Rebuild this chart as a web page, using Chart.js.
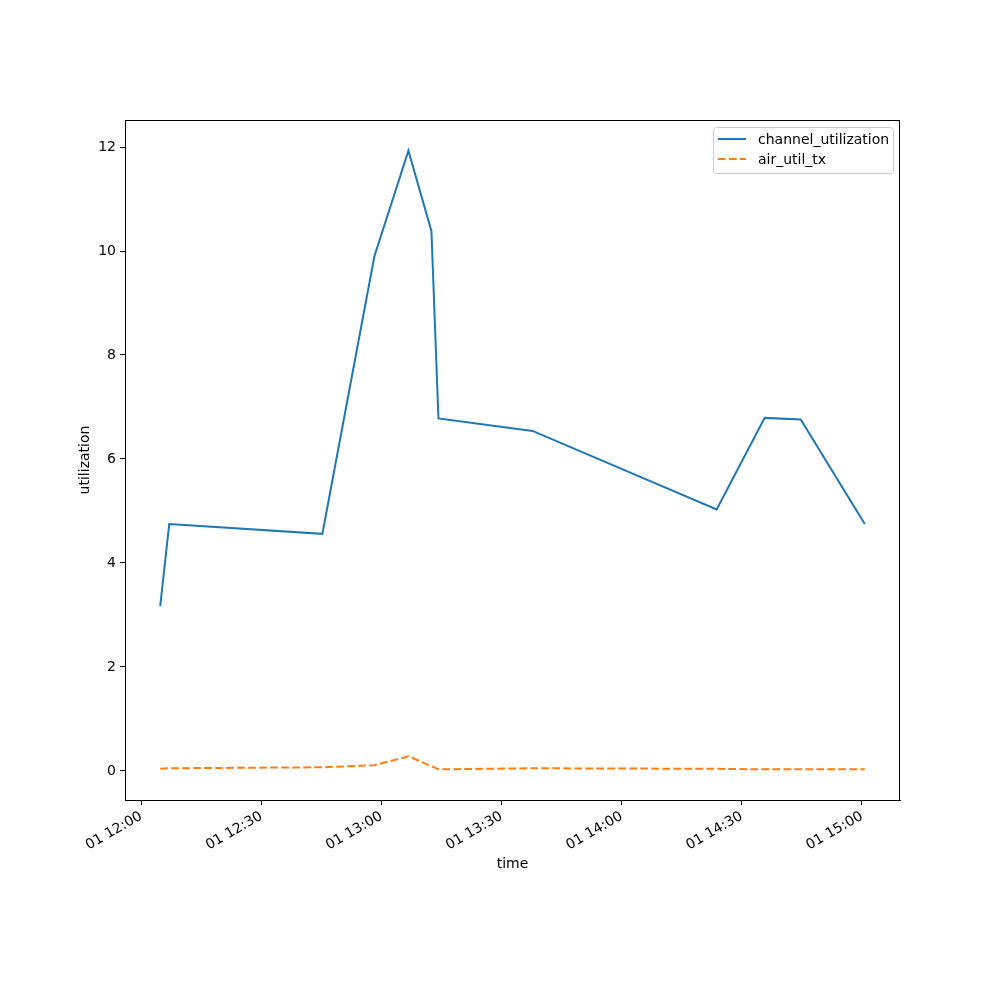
<!DOCTYPE html>
<html>
<head>
<meta charset="utf-8">
<script src="https://cdn.jsdelivr.net/npm/chart.js@4"></script>
<style>
    html, body { margin: 0; padding: 0; background: #fff; }
    #wrap { width: 1000px; height: 1000px; }
</style>
</head>
<body>
<div id="wrap"><canvas id="util-chart" width="1000" height="1000"></canvas></div>
<script>
// Minutos depois de 01 12:00
const timeMinutes = [4.75, 7, 45.25, 58.25, 66.75, 72.5, 74.25, 97.75, 143.75, 155.75, 164.75, 180.75];
const channelUtil = [3.17, 4.75, 4.56, 9.9, 11.93, 10.38, 6.78, 6.54, 5.03, 6.79, 6.76, 4.75];
const airUtilTx = [0.04, 0.05, 0.07, 0.11, 0.28, 0.09, 0.03, 0.05, 0.04, 0.03, 0.03, 0.03];

const xTickValues = [0, 30, 60, 90, 120, 150, 180];
const xTickLabels = ['01 12:00', '01 12:30', '01 13:00', '01 13:30', '01 14:00', '01 14:30', '01 15:00'];
const seriesNames = ['channel_utilization', 'air_util_tx'];

const FONT = 'DejaVu Sans';

// Moldura e legenda no estilo matplotlib
const frameAndLegend = {
    id: 'frameAndLegend',
    afterDraw(chart) {
        const { ctx, chartArea } = chart;
        ctx.save();
        ctx.strokeStyle = '#000';
        ctx.lineWidth = 1;
        ctx.strokeRect(chartArea.left + 0.5, chartArea.top + 0.5,
            chartArea.right - chartArea.left - 1, chartArea.bottom - chartArea.top);

        // caixa da legenda
        const bx = chartArea.right - 187, by = chartArea.top + 7, bw = 180, bh = 46;
        ctx.fillStyle = 'rgba(255,255,255,0.8)';
        ctx.strokeStyle = '#cccccc';
        ctx.beginPath();
        ctx.roundRect(bx + 0.5, by + 0.5, bw, bh, 3);
        ctx.fill();
        ctx.stroke();

        ctx.font = '14px "' + FONT + '"';
        ctx.textBaseline = 'middle';
        chart.data.datasets.forEach((ds, i) => {
            const y = by + 12 + i * 20;
            ctx.strokeStyle = ds.borderColor;
            ctx.lineWidth = ds.borderWidth;
            ctx.setLineDash(ds.borderDash || []);
            ctx.beginPath();
            ctx.moveTo(bx + 5, y);
            ctx.lineTo(bx + 33, y);
            ctx.stroke();
            ctx.setLineDash([]);
            ctx.fillStyle = '#000';
            ctx.fillText(ds.label, bx + 45, y + 1);
        });
        ctx.restore();
    }
};

const ctx = document.getElementById('util-chart');
new Chart(ctx, {
    type: 'line',
    data: {
        datasets: [
            {
                label: seriesNames[0],
                data: timeMinutes.map((t, i) => ({ x: t, y: channelUtil[i] })),
                borderColor: '#1f77b4',
                borderWidth: 2,
                pointRadius: 0,
                tension: 0
            },
            {
                label: seriesNames[1],
                data: timeMinutes.map((t, i) => ({ x: t, y: airUtilTx[i] })),
                borderColor: '#ff7f0e',
                borderWidth: 2,
                borderDash: [7.7, 3.3],
                pointRadius: 0,
                tension: 0
            }
        ]
    },
    options: {
        responsive: false,
        animation: false,
        layout: { padding: { top: 120, right: 100, left: 0, bottom: 0 } },
        plugins: {
            legend: { display: false },
            tooltip: { enabled: false }
        },
        scales: {
            x: {
                type: 'linear',
                min: -4.05,
                max: 189.55,
                afterFit: scale => { scale.height = 200; },
                afterBuildTicks: scale => {
                    scale.ticks = xTickValues.map(v => ({ value: v }));
                },
                ticks: {
                    minRotation: 30,
                    maxRotation: 30,
                    color: '#000',
                    padding: 3,
                    font: { family: FONT, size: 14 },
                    callback: value => {
                        const i = xTickValues.indexOf(value);
                        return i >= 0 ? xTickLabels[i] : '';
                    }
                },
                grid: { drawOnChartArea: false, drawTicks: true, tickLength: 5, color: '#000' },
                border: { display: true, color: '#000', width: 1 },
                title: {
                    display: true,
                    text: 'time',
                    color: '#000',
                    font: { family: FONT, size: 14 },
                    padding: { top: 0, bottom: 127 }
                }
            },
            y: {
                min: -0.56,
                max: 12.52,
                afterFit: scale => { scale.width = 125; },
                afterBuildTicks: scale => {
                    scale.ticks = [0, 2, 4, 6, 8, 10, 12].map(v => ({ value: v }));
                },
                ticks: {
                    color: '#000',
                    padding: 4,
                    font: { family: FONT, size: 14 }
                },
                grid: { drawOnChartArea: false, drawTicks: true, tickLength: 5, color: '#000' },
                border: { display: true, color: '#000', width: 1 },
                title: {
                    display: true,
                    text: 'utilization',
                    color: '#000',
                    font: { family: FONT, size: 14 },
                    padding: { top: 77, bottom: 0 }
                }
            }
        }
    },
    plugins: [frameAndLegend]
});
</script>
</body>
</html>
